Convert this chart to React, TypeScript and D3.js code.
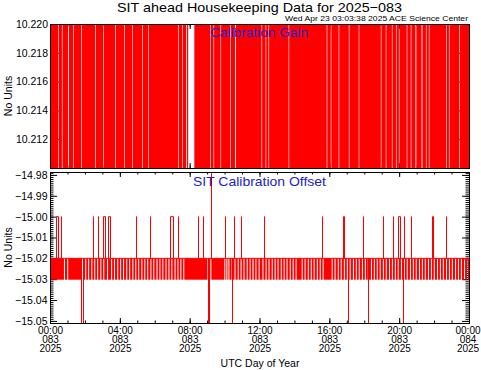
import React, { useRef, useEffect } from 'react';
import * as d3 from 'd3';

const WIDTH = 481;
const HEIGHT = 370;

// day 083 of 2025 (UTC)
const dayStart = new Date(Date.UTC(2025, 2, 24));
const dayEnd = new Date(Date.UTC(2025, 2, 25));

const gainTicks = [10.212, 10.214, 10.216, 10.218, 10.22];
const offsetTicks = [-15.05, -15.04, -15.03, -15.02, -15.01, -15.0, -14.99, -14.98];

// Calibration Gain: toggles between these levels, gaps = minutes where it stays high
const gainHigh = 10.22;
const gainLow = 10.205;
const gainGaps = [
  [28, 30], [41, 43], [62, 65], [79, 81], [107, 109], [155, 157], [183, 185],
  [224, 226], [255, 257], [282, 284], [317, 319], [338, 340], [441, 443],
  [455, 457], [468, 471], [475, 496], [551, 553], [562, 564], [586, 588],
  [620, 622], [636, 639], [727, 729], [741, 743], [751, 753], [820, 822],
  [951, 953], [965, 967], [992, 994], [1027, 1029], [1061, 1063], [1137, 1139],
  [1154, 1156], [1175, 1177], [1189, 1191], [1199, 1201], [1226, 1228],
  [1240, 1242], [1256, 1259], [1277, 1280], [1292, 1294], [1302, 1304],
  [1361, 1363], [1371, 1373], [1406, 1408],
];

// Calibration Offset
const offsetBase = -15.02;
const offsetDip = -15.03;
const offsetUp = -15.0;
const offsetDown = -15.06;
// minutes where the offset stays at the base level (no dip)
const offsetBandGaps = [
  48, 59, 110, 121, 131, 142, 152, 162, 173, 183, 196, 210, 220, 231, 241, 251,
  262, 272, 283, 293, 303, 314, 324, 334, 345, 355, 366, 376, 386, 397, 407, 417,
  428, 438, 448, 458, 541, 551, 599, 606, 613, 624, 634, 645, 655, 665, 676, 686,
  696, 706, 717, 730, 741, 751, 762, 772, 782, 793, 803, 813, 824, 834, 844, 865,
  875, 886, 896, 906, 917, 927, 937, 968, 978, 989, 999, 1010, 1020, 1030, 1041,
  1051, 1061, 1072, 1082, 1092, 1103, 1113, 1123, 1133, 1144, 1154, 1165, 1175,
  1185, 1195, 1206, 1216, 1226, 1237, 1247, 1257, 1268, 1278, 1288, 1299, 1309,
  1319, 1330, 1340, 1350, 1361, 1371, 1381, 1392, 1402, 1412, 1423, 1433,
];
const offsetUpSpikes = [
  [21, 28], [38, 38], [148, 148], [165, 165], [183, 189], [200, 207], [296, 296],
  [345, 345], [413, 424], [441, 441], [510, 510], [527, 527], [603, 603],
  [634, 634], [655, 655], [734, 734], [934, 934], [1006, 1009], [1075, 1075],
  [1144, 1144], [1178, 1178], [1195, 1202], [1216, 1216], [1240, 1240],
  [1313, 1316], [1361, 1361],
];
const offsetDownSpikes = [
  [107, 114], [544, 548], [627, 627], [1023, 1023], [1092, 1092], [1213, 1213],
];
const offsetPeak = { minute: 555, value: -14.96 };

const FONT = '"Liberation Sans", Arial, Helvetica, sans-serif';
const RED = '#ff0000';
const BLUE = '#2222cc';

const left = 50;
const right = 469;
const gainPanel = { top: 24, bottom: 168 };
const offsetPanel = { top: 172, bottom: 323 };

const t = (m: number) => new Date(dayStart.getTime() + m * 60000);

function segmentsFrom(gaps: number[][]) {
  const segs: number[][] = [];
  let start = 0;
  gaps.forEach(([a, b]) => {
    segs.push([start, a]);
    start = b;
  });
  segs.push([start, 1440]);
  return segs;
}

export default function App() {
  const ref = useRef<SVGSVGElement>(null);

  useEffect(() => {
    const svg = d3.select(ref.current);
    svg.selectAll('*').remove();

    const x = d3.scaleUtc().domain([dayStart, dayEnd]).range([left, right]);
    const yGain = d3.scaleLinear().domain([10.21, 10.22]).range([gainPanel.bottom, gainPanel.top]);
    const yOff = d3.scaleLinear().domain([-15.051, -14.9786]).range([offsetPanel.bottom, offsetPanel.top]);

    svg.append('rect').attr('width', WIDTH).attr('height', HEIGHT).attr('fill', '#fff');

    const defs = svg.append('defs');
    [['clipGain', gainPanel], ['clipOff', offsetPanel]].forEach(([id, p]: any) => {
      defs.append('clipPath').attr('id', id)
        .append('rect')
        .attr('x', left).attr('y', p.top)
        .attr('width', right - left).attr('height', p.bottom - p.top);
    });

    const majorHours = x.ticks(d3.utcHour.every(4) as any);
    const minorHours = x.ticks(d3.utcHour.every(1) as any);

    const tickAxis = (g: any, axis: any) => {
      g.call(axis);
      g.select('.domain').remove();
      g.selectAll('text').remove();
      g.selectAll('line').attr('stroke', '#000');
    };

    const drawXTicks = (p: { top: number; bottom: number }) => {
      const g = svg.append('g');
      tickAxis(g.append('g').attr('transform', `translate(0,${p.top})`),
        d3.axisTop(x).tickValues(majorHours).tickSizeInner(-5).tickSizeOuter(0));
      tickAxis(g.append('g').attr('transform', `translate(0,${p.top})`),
        d3.axisTop(x).tickValues(minorHours).tickSizeInner(-2.5).tickSizeOuter(0));
      tickAxis(g.append('g').attr('transform', `translate(0,${p.bottom})`),
        d3.axisBottom(x).tickValues(majorHours).tickSizeInner(-5).tickSizeOuter(0));
      tickAxis(g.append('g').attr('transform', `translate(0,${p.bottom})`),
        d3.axisBottom(x).tickValues(minorHours).tickSizeInner(-2.5).tickSizeOuter(0));
    };

    const styleLabels = (g: any) => {
      g.select('.domain').remove();
      g.selectAll('line').attr('stroke', '#000');
      g.selectAll('text')
        .attr('font-family', FONT)
        .attr('font-size', 10.5)
        .attr('fill', '#000');
    };

    // ---------- Calibration Gain panel ----------
    drawXTicks(gainPanel);
    svg.append('g')
      .attr('transform', `translate(${left},0)`)
      .call(d3.axisLeft(yGain).tickValues(gainTicks).tickSizeInner(-10).tickSizeOuter(0)
        .tickPadding(2).tickFormat(d3.format('.3f')) as any)
      .call(styleLabels);
    tickAxis(svg.append('g').attr('transform', `translate(${right},0)`),
      d3.axisRight(yGain).tickValues(gainTicks).tickSizeInner(-10).tickSizeOuter(0));

    const gainData = svg.append('g').attr('clip-path', 'url(#clipGain)');
    gainData.selectAll('rect')
      .data(segmentsFrom(gainGaps))
      .join('rect')
      .attr('x', d => x(t(d[0])))
      .attr('width', d => Math.max(0, x(t(d[1])) - x(t(d[0]))))
      .attr('y', yGain(gainHigh))
      .attr('height', yGain(gainLow) - yGain(gainHigh))
      .attr('fill', RED);
    gainData.append('line')
      .attr('x1', left).attr('x2', right)
      .attr('y1', yGain(gainHigh) + 0.5).attr('y2', yGain(gainHigh) + 0.5)
      .attr('stroke', RED);

    svg.append('rect')
      .attr('x', left + 0.5).attr('y', gainPanel.top + 0.5)
      .attr('width', right - left).attr('height', gainPanel.bottom - gainPanel.top)
      .attr('fill', 'none').attr('stroke', '#000');

    svg.append('text')
      .attr('x', 259).attr('y', 37)
      .attr('text-anchor', 'middle')
      .attr('font-family', FONT).attr('font-size', 13)
      .attr('textLength', 98).attr('lengthAdjust', 'spacingAndGlyphs')
      .attr('fill', BLUE)
      .text('Calibration Gain');

    // ---------- Calibration Offset panel ----------
    drawXTicks(offsetPanel);
    const offMinor = d3.range(-15051, -14978).map(v => v / 1000);
    svg.append('g')
      .attr('transform', `translate(${left},0)`)
      .call(d3.axisLeft(yOff).tickValues(offsetTicks).tickSizeInner(-7).tickSizeOuter(0)
        .tickPadding(2.5).tickFormat(d3.format('.2f')) as any)
      .call(styleLabels);
    tickAxis(svg.append('g').attr('transform', `translate(${left},0)`),
      d3.axisLeft(yOff).tickValues(offMinor).tickSizeInner(-3.5).tickSizeOuter(0));
    tickAxis(svg.append('g').attr('transform', `translate(${right},0)`),
      d3.axisRight(yOff).tickValues(offsetTicks).tickSizeInner(-7).tickSizeOuter(0));
    tickAxis(svg.append('g').attr('transform', `translate(${right},0)`),
      d3.axisRight(yOff).tickValues(offMinor).tickSizeInner(-3.5).tickSizeOuter(0));

    const offData = svg.append('g').attr('clip-path', 'url(#clipOff)');
    const bandGaps = offsetBandGaps.map(m => [m, m + 3.5]);
    offData.selectAll('rect.band')
      .data(segmentsFrom(bandGaps))
      .join('rect')
      .attr('class', 'band')
      .attr('x', d => x(t(d[0])))
      .attr('width', d => Math.max(0, x(t(d[1])) - x(t(d[0]))))
      .attr('y', yOff(offsetBase))
      .attr('height', yOff(offsetDip) - yOff(offsetBase) + 0.5)
      .attr('fill', RED);
    offData.append('line')
      .attr('x1', left).attr('x2', right)
      .attr('y1', yOff(offsetBase)).attr('y2', yOff(offsetBase))
      .attr('stroke', RED);

    const spikePath = (level: number) => (d: number[]) => {
      const x1 = Math.round(x(t(d[0]))) + 0.5;
      const x2 = Math.round(x(t(d[1]))) + 0.5;
      return `M${x1},${yOff(offsetBase)}V${yOff(level)}H${x2}V${yOff(offsetBase)}`;
    };
    offData.selectAll('path.up')
      .data(offsetUpSpikes)
      .join('path')
      .attr('class', 'up')
      .attr('d', spikePath(offsetUp))
      .attr('fill', 'none').attr('stroke', RED);
    offData.selectAll('path.down')
      .data(offsetDownSpikes)
      .join('path')
      .attr('class', 'down')
      .attr('d', spikePath(offsetDown))
      .attr('fill', 'none').attr('stroke', RED);
    offData.append('path')
      .attr('d', spikePath(offsetPeak.value)([offsetPeak.minute, offsetPeak.minute]))
      .attr('fill', 'none').attr('stroke', RED);

    svg.append('rect')
      .attr('x', left + 0.5).attr('y', offsetPanel.top + 0.5)
      .attr('width', right - left).attr('height', offsetPanel.bottom - offsetPanel.top)
      .attr('fill', 'none').attr('stroke', '#000');

    svg.append('text')
      .attr('x', 259.5).attr('y', 186)
      .attr('text-anchor', 'middle')
      .attr('font-family', FONT).attr('font-size', 13)
      .attr('textLength', 133).attr('lengthAdjust', 'spacingAndGlyphs')
      .attr('fill', BLUE)
      .text('SIT Calibration Offset');

    // ---------- x labels ----------
    const fmtTime = d3.utcFormat('%H:%M');
    const fmtDoy = d3.utcFormat('%j');
    const fmtYear = d3.utcFormat('%Y');
    const xl = svg.append('g')
      .attr('font-family', FONT).attr('font-size', 10)
      .attr('text-anchor', 'middle');
    [[fmtTime, 334], [fmtDoy, 343], [fmtYear, 351.5]].forEach(([fmt, yy]: any) => {
      xl.append('g').selectAll('text')
        .data(majorHours)
        .join('text')
        .attr('x', d => Math.min(x(d) + 0.5, WIDTH - 13))
        .attr('y', yy)
        .text(d => fmt(d));
    });

    svg.append('text')
      .attr('x', 260).attr('y', 367)
      .attr('text-anchor', 'middle')
      .attr('font-family', FONT).attr('font-size', 10.5)
      .text('UTC Day of Year');

    [gainPanel, offsetPanel].forEach(p => {
      svg.append('text')
        .attr('transform', `translate(12,${(p.top + p.bottom) / 2}) rotate(-90)`)
        .attr('text-anchor', 'middle')
        .attr('font-family', FONT).attr('font-size', 10.5)
        .text('No Units');
    });

    // ---------- titles ----------
    svg.append('text')
      .attr('x', 259.5).attr('y', 12)
      .attr('text-anchor', 'middle')
      .attr('font-family', FONT).attr('font-size', 13.5)
      .attr('textLength', 285).attr('lengthAdjust', 'spacingAndGlyphs')
      .text('SIT ahead Housekeeping Data for 2025\u2212083');
    svg.append('text')
      .attr('x', 468).attr('y', 21)
      .attr('text-anchor', 'end')
      .attr('font-family', FONT).attr('font-size', 8)
      .attr('textLength', 183).attr('lengthAdjust', 'spacingAndGlyphs')
      .text('Wed Apr 23 03:03:38 2025 ACE Science Center');
  }, []);

  return (
    <svg
      ref={ref}
      width={WIDTH}
      height={HEIGHT}
      style={{ position: 'absolute', left: 0, top: 0 }}
    />
  );
}
